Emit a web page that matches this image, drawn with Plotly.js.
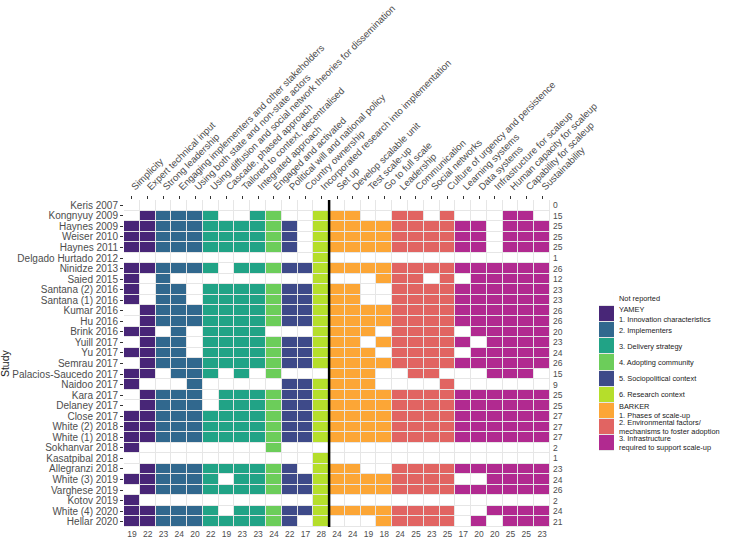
<!DOCTYPE html>
<html>
<head>
<meta charset="utf-8">
<script src="https://cdn.plot.ly/plotly-3.0.1.min.js"></script>
<style>
  body { margin: 0; background: #fff; }
  #heatmap { width: 730px; height: 537px; }
</style>
</head>
<body>
<div id="heatmap"></div>
<script>
var studies = ['Keris 2007', 'Kongnyuy 2009', 'Haynes 2009', 'Weiser 2010', 'Haynes 2011',
    'Delgado Hurtado 2012', 'Ninidze 2013', 'Saied 2015', 'Santana (2) 2016', 'Santana (1) 2016',
    'Kumar 2016', 'Hu 2016', 'Brink 2016', 'Yuill 2017', 'Yu 2017', 'Semrau 2017',
    'Palacios-Saucedo 2017', 'Naidoo 2017', 'Kara 2017', 'Delaney 2017', 'Close 2017',
    'White (2) 2018', 'White (1) 2018', 'Sokhanvar 2018', 'Kasatpibal 2018', 'Allegranzi 2018',
    'White (3) 2019', 'Varghese 2019', 'Kotov 2019', 'White (4) 2020', 'Hellar 2020'];

var criteria = ['Simplicity', 'Expert technical input', 'Strong leadership',
    'Engaging implementers and other stakeholders', 'Using both state and non-state actors',
    'Using diffusion and social network theories for dissemination', 'Cascade, phased approach',
    'Tailored to context, decentralised', 'Integrated approach', 'Engaged and activated',
    'Political will and national policy', 'Country ownership',
    'Incorporated research into implementation',
    'Set up', 'Develop scalable unit', 'Test scale-up', 'Go to full scale',
    'Leadership', 'Communication', 'Social networks', 'Culture of urgency and persistence',
    'Learning systems', 'Data systems', 'Infrastructure for scaleup',
    'Human capacity for scaleup', 'Capability for scaleup', 'Sustainability'];

// domain of each criterion (index into categoryLabels)
var criterionGroup = [1, 1, 2, 2, 2, 3, 3, 3, 3, 4, 5, 5, 6, 7, 7, 7, 7, 8, 8, 8, 8, 9, 9, 9, 9, 9, 9];

// 1 = reported, one string per study: 13 YAMEY criteria, then 14 BARKER criteria
var reported = [
    '0000000000000 00000000000000',
    '0111110011001 11001101000110',
    '1111111111101 11111111110111',
    '1111111111101 11111111110111',
    '1111111111101 11111111110111',
    '0000000000001 00000000000000',
    '1111110111111 11111111111111',
    '1010000000001 00011101011111',
    '1011011111111 11001111111111',
    '1011011111111 11001111111111',
    '0111111111111 11111111111111',
    '0111111111111 11111111111111',
    '1101011110001 11101111011111',
    '0111011111111 11011111101111',
    '1111011111111 11101111011111',
    '0111111111111 11111111111111',
    '1101110101000 11100110001110',
    '1000100000111 11100001000000',
    '0111101111111 11111111111111',
    '0111101111111 11111111111111',
    '1111111111111 11111111111111',
    '1111111111111 11111111111111',
    '1111111111111 11111111111111',
    '1000000001000 00000000000000',
    '0000000000001 00000000000000',
    '0111111111101 11001111111111',
    '1111110111111 11111111001111',
    '0111111111111 11111111111111',
    '1000000000001 00000000000000',
    '1111110111111 11111111001111',
    '1111111111101 00011111010111'
];

var rowTotals = [0, 15, 25, 25, 25, 1, 26, 12, 23, 23, 26, 26, 20, 23, 24, 26, 15, 9, 25, 25, 27, 27, 27, 2, 1, 23, 24, 26, 2, 24, 21];
var colTotals = [19, 22, 23, 24, 20, 22, 19, 23, 23, 24, 22, 17, 28, 24, 24, 19, 18, 24, 25, 23, 25, 17, 20, 20, 25, 25, 23];

var categoryLabels = ['Not reported',
    'YAMEY<br>1. Innovation characteristics', '2. Implementers', '3. Delivery strategy',
    '4. Adopting community', '5. Sociopolitical context', '6. Research context',
    'BARKER<br>1. Phases of scale-up', '2. Environmental factors/<br>mechanisms to foster adoption',
    '3. Infrastructure<br>required to support scale-up'];
var categoryColors = ['#ffffff', '#482677', '#31688e', '#21a386', '#6ccd5a', '#3e4a89',
    '#b5de2b', '#fca636', '#e16462', '#b12a90'];

var textColor = '#4d4d4d';
var fontFamily = '"Liberation Sans", Arial, sans-serif';

function buildMatrix() {
    var z = [];
    reported.forEach(function (row) {
        var flags = row.replace(/ /g, '');
        z.push(criterionGroup.map(function (g, c) {
            return flags[c] === '1' ? g : 0;
        }));
    });
    return z;
}

function discreteScale(colors) {
    var n = colors.length;
    var scale = [];
    colors.forEach(function (col, k) {
        scale.push([k / n, col]);
        scale.push([(k + 1) / n, col]);
    });
    return scale;
}

function plotHeatmap() {
    var colIdx = criteria.map(function (c, i) { return i; });
    var rowIdx = studies.map(function (s, i) { return i; });
    var catIdx = categoryLabels.map(function (c, i) { return i; });
    var scale = discreteScale(categoryColors);

    var main = {
        type: 'heatmap',
        x: colIdx,
        y: rowIdx,
        z: buildMatrix(),
        zmin: -0.5,
        zmax: categoryColors.length - 0.5,
        colorscale: scale,
        showscale: false,
        xgap: 1,
        ygap: 1,
        hoverinfo: 'skip'
    };

    // carries the totals axes (bottom and right)
    var totals = {
        type: 'scatter',
        x: colIdx,
        y: colIdx.map(function () { return 0; }),
        xaxis: 'x2',
        yaxis: 'y2',
        mode: 'markers',
        marker: { opacity: 0 },
        hoverinfo: 'skip',
        showlegend: false
    };

    var key = {
        type: 'heatmap',
        x: [0],
        y: catIdx,
        z: catIdx.map(function (k) { return [k]; }),
        zmin: -0.5,
        zmax: categoryColors.length - 0.5,
        colorscale: scale,
        showscale: false,
        xgap: 0,
        ygap: 1,
        xaxis: 'x3',
        yaxis: 'y3',
        hoverinfo: 'skip'
    };

    // boundary between the YAMEY and BARKER criteria
    var split = criterionGroup.indexOf(7) - 0.5;

    var smallFont = { family: fontFamily, size: 8.5, color: textColor };

    var layout = {
        width: 730,
        height: 537,
        margin: { l: 124, r: 0, t: 200, b: 10 },
        paper_bgcolor: '#ffffff',
        plot_bgcolor: '#e6e6e6',
        showlegend: false,
        font: { family: fontFamily, color: textColor },
        xaxis: {
            domain: [0, 0.703],
            range: [-0.5, criteria.length - 0.5],
            side: 'top',
            tickmode: 'array',
            tickvals: colIdx,
            ticktext: criteria,
            tickangle: -45,
            ticks: 'outside',
            ticklen: 3,
            tickcolor: '#333333',
            tickfont: { family: fontFamily, size: 9.6, color: textColor },
            showgrid: false,
            zeroline: false,
            showline: false,
            fixedrange: true
        },
        xaxis2: {
            overlaying: 'x',
            anchor: 'y',
            side: 'bottom',
            range: [-0.5, criteria.length - 0.5],
            tickmode: 'array',
            tickvals: colIdx,
            ticktext: colTotals.map(String),
            ticks: '',
            tickfont: smallFont,
            showgrid: false,
            zeroline: false,
            showline: false
        },
        yaxis: {
            range: [studies.length - 0.5, -0.5],
            tickmode: 'array',
            tickvals: rowIdx,
            ticktext: studies,
            ticks: 'outside',
            ticklen: 3,
            tickcolor: '#333333',
            tickfont: { family: fontFamily, size: 10, color: textColor },
            showgrid: false,
            zeroline: false,
            showline: false
        },
        yaxis2: {
            overlaying: 'y',
            anchor: 'x',
            side: 'right',
            range: [studies.length - 0.5, -0.5],
            tickmode: 'array',
            tickvals: rowIdx,
            ticktext: rowTotals.map(String),
            ticks: '',
            ticklabelstandoff: 2,
            tickfont: smallFont,
            showgrid: false,
            zeroline: false,
            showline: false
        },
        xaxis3: {
            domain: [0.7838, 0.8086],
            anchor: 'y3',
            range: [-0.5, 0.5],
            visible: false
        },
        yaxis3: {
            domain: [0.2324, 0.7248],
            anchor: 'x3',
            side: 'right',
            range: [categoryLabels.length - 0.5, -0.5],
            tickmode: 'array',
            tickvals: catIdx,
            ticktext: categoryLabels,
            ticks: '',
            ticklabelstandoff: 4,
            tickfont: { family: fontFamily, size: 7.4, color: '#1a1a1a' },
            showgrid: false,
            zeroline: false,
            showline: false
        },
        shapes: [{
            type: 'line',
            xref: 'x',
            yref: 'y',
            x0: split,
            x1: split,
            y0: -0.5,
            y1: studies.length - 0.5,
            line: { color: '#000000', width: 2.5 }
        }],
        annotations: [{
            text: 'Study',
            xref: 'paper',
            yref: 'paper',
            x: -0.197,
            y: 0.5,
            xanchor: 'center',
            yanchor: 'middle',
            textangle: -90,
            showarrow: false,
            font: { family: fontFamily, size: 10.5, color: '#1a1a1a' }
        }]
    };

    Plotly.newPlot('heatmap', [main, totals, key], layout, { displayModeBar: false, staticPlot: true });
}

document.addEventListener('DOMContentLoaded', function () {
    plotHeatmap();
});
</script>
</body>
</html>
